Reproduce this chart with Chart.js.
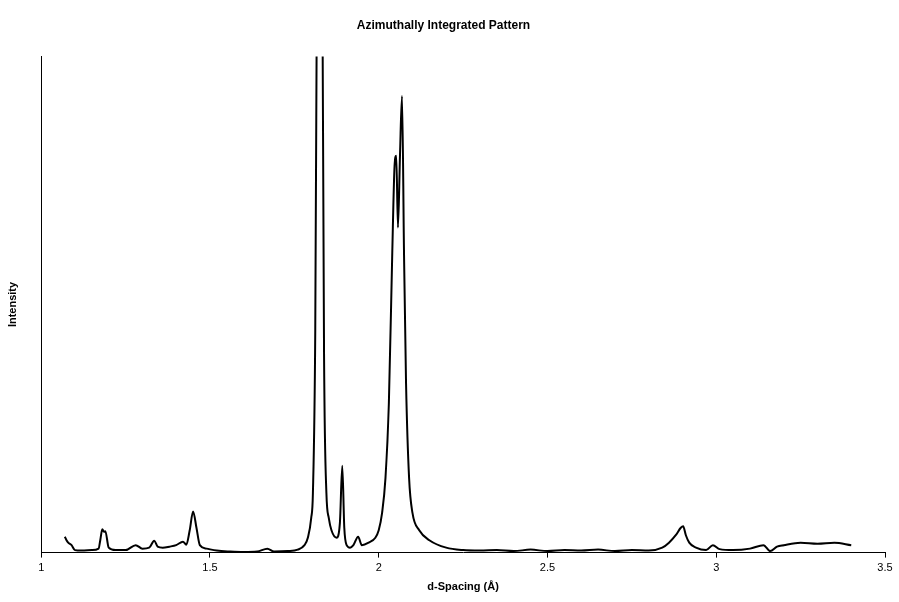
<!DOCTYPE html>
<html>
<head>
<meta charset="utf-8">
<script src="https://cdn.jsdelivr.net/npm/chart.js@4"></script>
<style>
  body { margin: 0; background: #fff; }
  #c { display: block; }
</style>
</head>
<body>
<canvas id="c" width="899" height="602"></canvas>
<script>
// d-spacing (Å) and intensity (intensity in % of plot height)
const dSpacing = [1.07, 1.075, 1.08, 1.09, 1.10, 1.12, 1.15, 1.17, 1.175, 1.181, 1.186, 1.19, 1.20, 1.22, 1.25, 1.28, 1.30, 1.32, 1.335, 1.345, 1.36, 1.38, 1.40, 1.42, 1.43, 1.44, 1.45, 1.46, 1.47, 1.49, 1.52, 1.56, 1.60, 1.64, 1.67, 1.69, 1.73, 1.76, 1.78, 1.79, 1.80, 1.805, 1.812, 1.818, 1.825, 1.832, 1.838, 1.845, 1.852, 1.86, 1.875, 1.885, 1.892, 1.898, 1.905, 1.915, 1.925, 1.939, 1.95, 1.97, 1.99, 2.00, 2.01, 2.02, 2.03, 2.04, 2.047, 2.052, 2.057, 2.063, 2.069, 2.075, 2.081, 2.09, 2.10, 2.12, 2.15, 2.20, 2.25, 2.30, 2.35, 2.40, 2.45, 2.50, 2.55, 2.60, 2.65, 2.70, 2.75, 2.80, 2.84, 2.86, 2.88, 2.895, 2.902, 2.91, 2.92, 2.94, 2.97, 2.99, 3.01, 3.05, 3.10, 3.14, 3.16, 3.18, 3.20, 3.25, 3.30, 3.35, 3.40];
const intensity = [3.2, 2.5, 2.0, 1.5, 0.5, 0.4, 0.5, 0.8, 2.5, 4.7, 4.2, 4.3, 1.0, 0.5, 0.5, 1.5, 0.8, 1.0, 2.4, 1.2, 1.0, 1.2, 1.5, 2.2, 1.6, 4.5, 8.3, 5.0, 1.5, 0.8, 0.4, 0.2, 0.1, 0.2, 0.8, 0.2, 0.3, 0.6, 1.5, 3.0, 7.0, 12, 45, 130, 160, 130, 40, 12, 7, 4.5, 3.0, 6, 17.5, 5, 1.5, 1.0, 1.5, 3.2, 1.5, 2.0, 3.0, 4.5, 8, 15, 30, 60, 78, 80, 65.5, 80, 92, 60, 34, 15, 8, 4.5, 2.5, 1.0, 0.5, 0.4, 0.5, 0.3, 0.6, 0.3, 0.5, 0.4, 0.6, 0.3, 0.5, 0.4, 1.0, 2.0, 3.5, 5.0, 5.3, 3.5, 2.0, 1.0, 0.5, 1.5, 0.7, 0.5, 0.8, 1.5, 0.3, 1.2, 1.5, 2.0, 1.8, 2.0, 1.5];
const xTicks = [1, 1.5, 2, 2.5, 3, 3.5];

const points = dSpacing.map((d, i) => ({ x: d, y: intensity[i] }));

new Chart(document.getElementById('c').getContext('2d'), {
  type: 'line',
  data: {
    datasets: [{
      data: points,
      borderColor: '#000',
      borderWidth: 2,
      pointRadius: 0,
      cubicInterpolationMode: 'monotone'
    }]
  },
  options: {
    responsive: false,
    animation: false,
    layout: { padding: { left: 2, right: 14, top: 6, bottom: 4 } },
    plugins: {
      legend: { display: false },
      tooltip: { enabled: false },
      title: {
        display: true,
        text: 'Azimuthally Integrated Pattern',
        color: '#000',
        font: { family: 'Arial, Liberation Sans', size: 12, weight: 'bold' },
        padding: { top: 12, bottom: 24 }
      }
    },
    scales: {
      x: {
        type: 'linear',
        min: 1,
        max: 3.5,
        afterBuildTicks: axis => { axis.ticks = xTicks.map(v => ({ value: v })); },
        grid: { drawOnChartArea: false, drawTicks: true, tickLength: 5, color: '#000' },
        border: { color: '#000', width: 1 },
        ticks: { color: '#000', font: { family: 'Arial, Liberation Sans', size: 11 }, padding: 4, maxRotation: 0, callback: v => String(v) },
        title: { display: true, text: 'd-Spacing (Å)', color: '#000', font: { family: 'Arial, Liberation Sans', size: 11, weight: 'bold' }, padding: { top: 2 } }
      },
      y: {
        min: 0,
        max: 100,
        grid: { display: false },
        border: { color: '#000', width: 1 },
        ticks: { display: false },
        title: { display: true, text: 'Intensity', color: '#000', font: { family: 'Arial, Liberation Sans', size: 11, weight: 'bold' }, padding: { bottom: 14 } }
      }
    }
  }
});
</script>
</body>
</html>
